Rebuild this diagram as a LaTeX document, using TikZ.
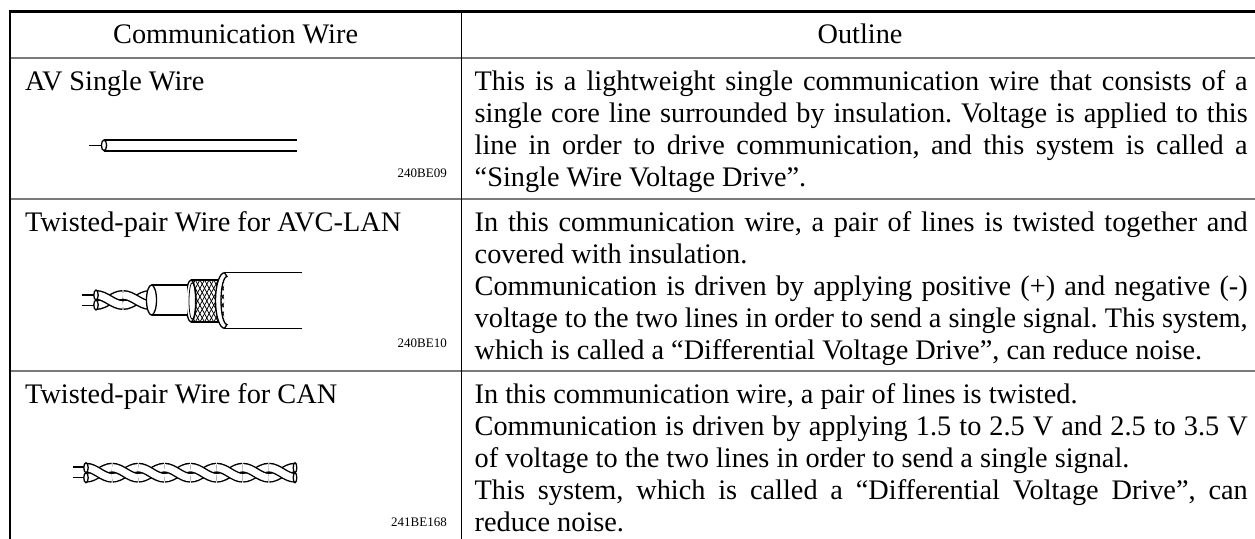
\documentclass[tikz,border=0pt]{standalone}
\usepackage{fontspec}
\setmainfont{Liberation Serif}
\frenchspacing
\newcommand\bigtxt{\fontsize{28.3pt}{32pt}\selectfont}
\newcommand\codetxt{\fontsize{13pt}{15pt}\selectfont}
\newcommand\jline[1]{\hbox to 773pt{#1}}
% #1 x0, #2 centre y, #3 half-twist length, #4 number of pieces - 1, #5 amplitude
\newcommand\twistpair[5]{%
  \foreach \k in {0,...,#4}{%
    \pgfmathsetmacro\xa{#1+\k*#3}%
    \pgfmathsetmacro\xb{#1+(\k+1)*#3}%
    \pgfmathsetmacro\dd{0.3642*#3}%
    \draw[strandpiece] (\xa,#2+#5) .. controls (\xa+\dd,#2+#5) and (\xb-\dd,#2-#5) .. (\xb,#2-#5);
    \draw[strandpiece] (\xa,#2-#5) .. controls (\xa+\dd,#2-#5) and (\xb-\dd,#2+#5) .. (\xb,#2+#5);
  }}
\begin{document}
\begin{tikzpicture}[x=1pt,y=-1pt,
  txt/.style={inner sep=0pt, anchor=base west, font=\bigtxt},
  head/.style={inner sep=0pt, anchor=base, font=\bigtxt},
  code/.style={inner sep=0pt, anchor=base east, font=\codetxt},
  rule/.style={draw=black!52, line width=1.9pt},
  frame/.style={draw=black, line width=2.2pt},
  wl/.style={line width=1.3pt},
  strandpiece/.style={line width=1.4pt, double=white, double distance=7.2pt, line cap=butt}]
\useasboundingbox (0,0) rectangle (1255,538);

% ---- table rules ----
\draw[rule] (9.7,57.7) -- (1262,57.7);
\draw[rule] (9.7,199.2) -- (1262,199.2);
\draw[rule] (9.7,370.8) -- (1262,370.8);
\draw[line width=1.1pt] (461.5,11.5) -- (461.5,540);
\draw[frame] (8.6,11.5) -- (1262,11.5);
\draw[frame] (9.7,10.4) -- (9.7,540);

% ---- header ----
\node[head] (h1) at (235.6,43.3) {Communication Wire};
\node[head] (h2) at (860,43.3) {Outline};

% ---- column 1 ----
\node[txt] (l1) at (25,90.5) {AV Single Wire};
\node[txt] (l2) at (25,231.5) {Twisted-pair Wire for AVC-LAN};
\node[txt] (l3) at (25,403.5) {Twisted-pair Wire for CAN};
\node[code] (c1) at (447,177.3) {240BE09};
\node[code] (c2) at (447,347.3) {240BE10};
\node[code] (c3) at (447,526.7) {241BE168};

% ---- column 2, row 1 ----
\node[txt] (r1a) at (474.5,90.5) {\jline{This is a lightweight single communication wire that consists of a}};
\node[txt] (r1b) at (474.5,122.5) {\jline{single core line surrounded by insulation. Voltage is applied to this}};
\node[txt] (r1c) at (474.5,154.5) {\jline{line in order to drive communication, and this system is called a}};
\node[txt] (r1d) at (474.5,186.5) {“Single Wire Voltage Drive”.};

% ---- column 2, row 2 ----
\node[txt] (r2a) at (474.5,231.5) {\jline{In this communication wire, a pair of lines is twisted together and}};
\node[txt] (r2b) at (474.5,263.5) {covered with insulation.};
\node[txt] (r2c) at (474.5,295.5) {\jline{Communication is driven by applying positive (+) and negative (-)}};
\node[txt] (r2d) at (474.5,327.5) {\jline{voltage to the two lines in order to send a single signal. This system,}};
\node[txt] (r2e) at (474.5,359.5) {which is called a “Differential Voltage Drive”, can reduce noise.};

% ---- column 2, row 3 ----
\node[txt] (r3a) at (474.5,403.5) {In this communication wire, a pair of lines is twisted.};
\node[txt] (r3b) at (474.5,435.5) {\jline{Communication is driven by applying 1.5 to 2.5 V and 2.5 to 3.5 V}};
\node[txt] (r3c) at (474.5,467.5) {of voltage to the two lines in order to send a single signal.};
\node[txt] (r3d) at (474.5,499.5) {\jline{This system, which is called a “Differential Voltage Drive”, can}};
\node[txt] (r3e) at (474.5,531.5) {reduce noise.};

% ---- wire 1 : AV single wire ----
\draw[line width=1.5pt] (104,140) -- (297,140);
\draw[line width=2pt] (104,150.6) -- (297,150.6);
\draw[wl, fill=white] (104,145.3) ellipse [x radius=2.6, y radius=5.3];
\draw[line width=1.5pt] (89,145.3) -- (101.4,145.3);

% ---- wire 2 : twisted pair for AVC-LAN ----
\draw[wl] (224.5,272.7) -- (302,272.7);
\draw[wl] (224.5,328.3) -- (302,328.3);
\fill[white] (191,280) rectangle (224,322);
\begin{scope}
  \clip (191,280) arc[start angle=270, end angle=450, x radius=5, y radius=21] -- (224,322) -- (224,280) -- cycle;
  \foreach \i in {0,...,15}{
    \draw[line width=0.75pt] (168+\i*4.6,272) -- ++(30,55);
    \draw[line width=0.75pt] (168+\i*4.6,330) -- ++(30,-55);
  }
\end{scope}
\draw[wl] (191,280) -- (224,280);
\draw[wl] (191,322) -- (224,322);
\draw[wl, fill=white] (191,301) ellipse [x radius=5, y radius=21];
\draw[line width=0.8pt] (192.2,301) ellipse [x radius=3.2, y radius=18.3];
\draw[wl, fill=white] (224.5,272.7) arc[start angle=270, end angle=90, x radius=9, y radius=27.8]
  -- (227,324.5) arc[start angle=90, end angle=270, x radius=6, y radius=24] -- cycle;
\fill[white] (151.5,285) rectangle (187,315);
\draw[wl] (151.5,285) -- (188,285);
\draw[wl] (151.5,315) -- (188,315);
\twistpair{96}{300}{27}{1}{5}
\draw[wl, fill=white] (151.5,300) ellipse [x radius=5, y radius=15];
\draw[wl, fill=white] (96,295) ellipse [x radius=2.2, y radius=5];
\draw[wl, fill=white] (96,305) ellipse [x radius=2.2, y radius=5];
\draw[line width=1.2pt] (82,295) -- (93.8,295);
\draw[line width=1.2pt] (82,305.3) -- (93.8,305.3);

% ---- wire 3 : twisted pair for CAN ----
\twistpair{86}{472.7}{26.125}{7}{5}
\draw[wl, fill=white] (86,467.7) ellipse [x radius=2.2, y radius=5];
\draw[wl, fill=white] (86,477.7) ellipse [x radius=2.2, y radius=5];
\draw[wl, fill=white] (295,467.7) ellipse [x radius=1.8, y radius=5];
\draw[wl, fill=white] (295,477.7) ellipse [x radius=1.8, y radius=5];
\draw[line width=1.2pt] (73.3,467) -- (83.8,467);
\draw[line width=1.2pt] (73.3,477.7) -- (83.8,477.7);
\end{tikzpicture}
\end{document}
